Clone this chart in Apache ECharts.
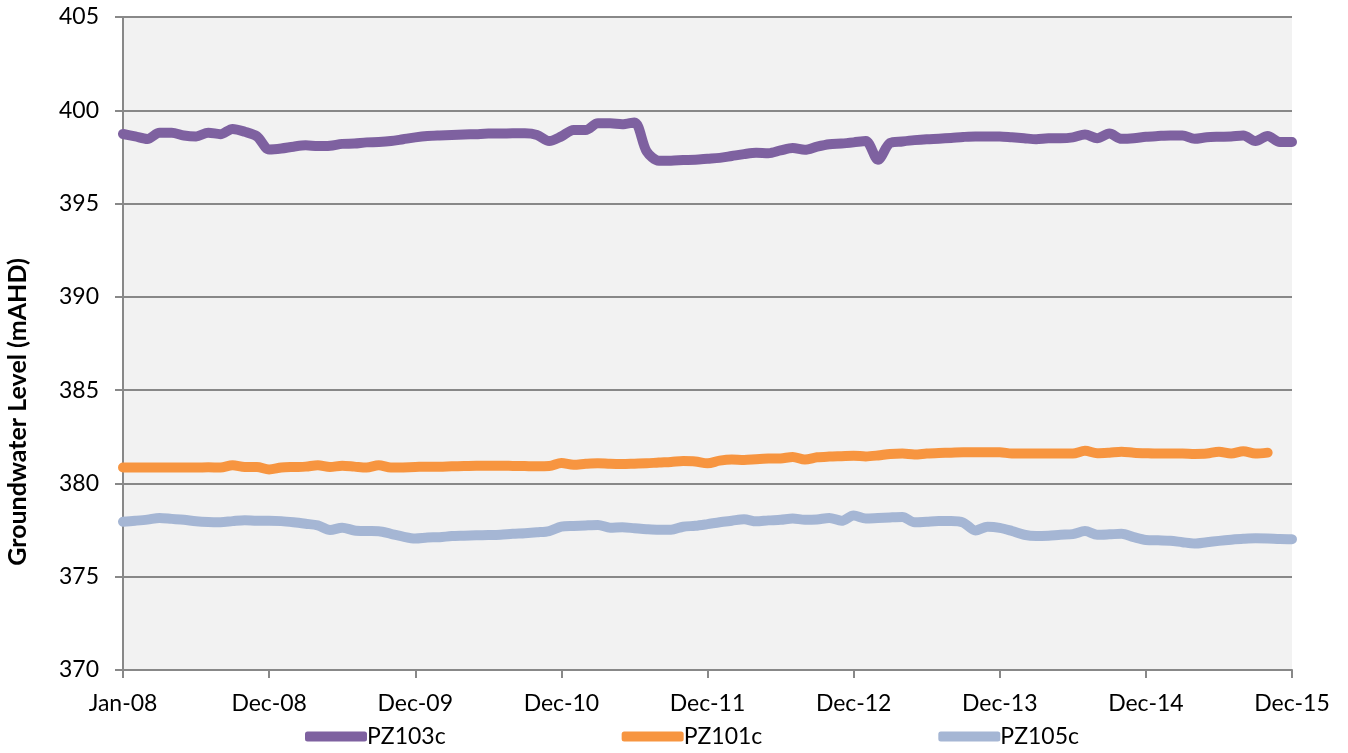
<!DOCTYPE html>
<html>
<head>
    <meta charset="utf-8">
    <title>Groundwater Level</title>
    <script src="https://cdn.jsdelivr.net/npm/echarts@6/dist/echarts.min.js"></script>
    <style>
        html, body { margin: 0; padding: 0; background: #fff; }
    </style>
</head>
<body>
    <div id="main" style="width: 1348px;height:753px;"></div>
    <script type="text/javascript">

    // month index 0 = Jan-08 ... 96 = Dec-15, tick labels every 12 months
    var tickLabels = ['Jan-08', 'Dec-08', 'Dec-09', 'Dec-10', 'Dec-11', 'Dec-12', 'Dec-13', 'Dec-14', 'Dec-15'];

    var pz103c = [
        398.73, 398.6, 398.46, 398.8, 398.8, 398.65, 398.6, 398.8, 398.72, 399.0,
        398.85, 398.6, 397.9, 397.95, 398.05, 398.12, 398.08, 398.1, 398.2, 398.22,
        398.28, 398.3, 398.35, 398.45, 398.55, 398.62, 398.65, 398.67, 398.7, 398.72,
        398.75, 398.75, 398.77, 398.77, 398.68, 398.35, 398.6, 398.95, 398.94, 399.3,
        399.3, 399.25, 399.35, 397.8, 397.3, 397.3, 397.33, 397.35, 397.4, 397.45,
        397.55, 397.65, 397.72, 397.7, 397.85, 397.98, 397.88, 398.05, 398.18, 398.22,
        398.28, 398.35, 397.35, 398.25, 398.33, 398.4, 398.45, 398.48, 398.52, 398.57,
        398.6, 398.6, 398.6, 398.55, 398.5, 398.45, 398.5, 398.5, 398.55, 398.7,
        398.5, 398.75, 398.47, 398.5, 398.58, 398.62, 398.65, 398.65, 398.47, 398.55,
        398.58, 398.6, 398.65, 398.35, 398.62, 398.3, 398.3
    ];

    var pz101c = [
        380.85, 380.85, 380.85, 380.85, 380.85, 380.85, 380.85, 380.87, 380.85, 380.97,
        380.88, 380.88, 380.75, 380.85, 380.88, 380.9, 380.98, 380.88, 380.95, 380.9,
        380.85, 380.97, 380.85, 380.86, 380.88, 380.9, 380.9, 380.92, 380.93, 380.95,
        380.95, 380.95, 380.94, 380.93, 380.92, 380.93, 381.1, 381.0, 381.05, 381.08,
        381.05, 381.04, 381.06, 381.08, 381.12, 381.15, 381.2, 381.18, 381.08, 381.22,
        381.28, 381.26, 381.3, 381.33, 381.34, 381.42, 381.28, 381.4, 381.44, 381.46,
        381.48, 381.45, 381.5, 381.58, 381.6, 381.55, 381.6, 381.63, 381.65, 381.67,
        381.67, 381.67, 381.67, 381.6, 381.6, 381.6, 381.6, 381.6, 381.6, 381.75,
        381.62, 381.65, 381.7, 381.65, 381.62, 381.6, 381.6, 381.6, 381.58, 381.6,
        381.7, 381.6, 381.72, 381.6, 381.65, null, null
    ];

    var pz105c = [
        377.95, 378.0, 378.06, 378.15, 378.1, 378.05, 377.97, 377.93, 377.92, 377.98,
        378.03, 378.0, 378.0, 377.98, 377.92, 377.84, 377.75, 377.5, 377.63, 377.48,
        377.45, 377.44, 377.3, 377.15, 377.05, 377.1, 377.12, 377.18, 377.2, 377.22,
        377.23, 377.25, 377.3, 377.33, 377.38, 377.45, 377.68, 377.72, 377.75, 377.77,
        377.63, 377.65, 377.6, 377.55, 377.52, 377.52, 377.68, 377.73, 377.82, 377.92,
        378.0, 378.08, 377.97, 378.02, 378.05, 378.12, 378.05, 378.07, 378.15, 378.0,
        378.28, 378.12, 378.15, 378.18, 378.2, 377.92, 377.95, 377.98, 377.98, 377.9,
        377.48, 377.68, 377.62, 377.45, 377.25, 377.18, 377.2, 377.25, 377.28, 377.45,
        377.25, 377.27, 377.3, 377.12, 376.97, 376.95, 376.93, 376.85, 376.78, 376.85,
        376.92, 376.98, 377.03, 377.06, 377.05, 377.02, 377.01
    ];

    function toPairs(arr) {
        var out = [];
        for (var i = 0; i < arr.length; i++) {
            out.push([i, arr[i]]);
        }
        return out;
    }

    function lineSeries(name, data, color) {
        return {
            name: name,
            type: 'line',
            data: toPairs(data),
            showSymbol: false,
            symbol: 'none',
            smooth: 0.3,
            connectNulls: false,
            lineStyle: { color: color, width: 10, cap: 'round', join: 'round' },
            itemStyle: { color: color }
        };
    }

    var axisGray = '#888888';
    var myChart = echarts.init(document.getElementById('main'));

    var option = {
        animation: false,
        grid: {
            left: 123, right: 56, top: 17, bottom: 83,
            containLabel: false,
            outerBoundsMode: 'none',
            show: true, backgroundColor: '#f2f2f2', borderWidth: 0
        },
        // y axis title sits lower than the axis middle in the original
        graphic: [{
            type: 'text',
            x: 18,
            y: 412,
            rotation: Math.PI / 2,
            style: {
                text: 'Groundwater Level (mAHD)',
                fontFamily: 'Lato',
                fontWeight: 'bold',
                fontSize: 25,
                fill: '#000',
                align: 'center',
                verticalAlign: 'middle'
            }
        }],
        legend: {
            bottom: 0,
            left: 300,
            icon: 'roundRect',
            itemWidth: 62,
            itemHeight: 10,
            itemGap: 176,
            textStyle: { fontFamily: 'Lato', fontSize: 23, color: '#000', padding: [0, 0, 0, -5] },
            data: ['PZ103c', 'PZ101c', 'PZ105c']
        },
        xAxis: {
            type: 'value',
            min: 0,
            max: 96,
            interval: 12,
            axisLine: { show: true, onZero: false, lineStyle: { color: axisGray, width: 2 } },
            axisTick: { show: true, length: 8, lineStyle: { color: axisGray, width: 2 } },
            splitLine: { show: false },
            axisLabel: {
                margin: 22,
                fontFamily: 'Lato',
                fontSize: 23,
                color: '#000',
                formatter: function (v) { return tickLabels[Math.round(v / 12)] || ''; }
            }
        },
        yAxis: {
            type: 'value',
            min: 370,
            max: 405,
            interval: 5,
            axisLine: { show: true, lineStyle: { color: axisGray, width: 2 } },
            axisTick: { show: true, length: 8, lineStyle: { color: axisGray, width: 2 } },
            splitLine: { show: true, lineStyle: { color: axisGray, width: 2 } },
            axisLabel: { margin: 24, fontFamily: 'Lato', fontSize: 23, color: '#000' }
        },
        series: [
            lineSeries('PZ103c', pz103c, '#7e61a0'),
            lineSeries('PZ101c', pz101c, '#f79540'),
            lineSeries('PZ105c', pz105c, '#a5b6d4')
        ]
    };

    myChart.setOption(option);
    </script>
</body>
</html>
